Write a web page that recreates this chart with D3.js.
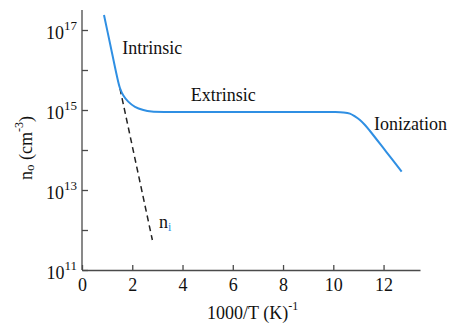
<!DOCTYPE html>
<html><head><meta charset="utf-8">
<script src="https://cdn.jsdelivr.net/npm/d3@7"></script>
<style>
html,body{margin:0;padding:0;background:#fff;}
svg{display:block;font-family:"Liberation Serif","Times New Roman",serif;}
</style></head>
<body><svg id="c" width="457" height="328"></svg>
<script>
// x ticks (1000/T)
const xTicks = [0, 2, 4, 6, 8, 10, 12];
// y ticks (exponents of 10)
const yTickExps = [11, 12, 13, 14, 15, 16, 17];
const yLabelExps = [11, 13, 15, 17];
// n0 curve: 1000/T and log10(n0)
const n0X   = [0.875, 1.13, 1.38, 1.51, 1.64, 1.84, 2.11, 2.44, 2.77, 3.5, 5, 7, 9, 10.0, 10.4, 10.66, 10.86, 11.06, 11.26, 11.46, 12.1, 12.72];
const n0Log = [17.375, 16.62, 15.875, 15.55, 15.37, 15.21, 15.08, 15.0, 14.96, 14.95, 14.95, 14.95, 14.95, 14.95, 14.94, 14.91, 14.84, 14.75, 14.625, 14.475, 13.96, 13.46];
// intrinsic ni line
const niX   = [1.51, 2.8];
const niLog = [15.54, 11.75];
// region labels
const labels = [
  {t: "Intrinsic", x: 1.6, e: 16.39},
  {t: "Extrinsic", x: 4.33, e: 15.23},
  {t: "Ionization", x: 11.62, e: 14.5}
];

const svg = d3.select("#c");
const x = d3.scaleLinear().domain([0, 13.45]).range([82, 420]);
const y = d3.scaleLog().domain([1e11, Math.pow(10, 17.5)]).range([270, 10]);

const axisColor = "#4a4a4a";

// x axis
const gx = svg.append("g").attr("transform", "translate(0,270)")
  .call(d3.axisBottom(x).tickValues(xTicks).tickSizeInner(-5).tickSizeOuter(0).tickPadding(6).tickFormat(d3.format("d")));
gx.select(".domain").attr("stroke", axisColor).attr("stroke-width", 1.3);
gx.selectAll(".tick line").attr("stroke", axisColor).attr("stroke-width", 1.3);
gx.selectAll(".tick text").attr("font-family", "Liberation Serif").attr("font-size", 18).attr("fill", "#111")
  .attr("y", 21).attr("dy", 0);

// y axis
const gy = svg.append("g").attr("transform", "translate(82,0)")
  .call(d3.axisLeft(y).tickValues(yTickExps.map(e => Math.pow(10, e))).tickSizeInner(-6).tickSizeOuter(0).tickFormat(""));
gy.select(".domain").attr("stroke", axisColor).attr("stroke-width", 1.3)
  .attr("d", "M0,270V10");
gy.selectAll(".tick line").attr("stroke", axisColor).attr("stroke-width", 1.3);

// y labels 10^n
yLabelExps.forEach(e => {
  const t = svg.append("text").attr("x", 77).attr("y", y(Math.pow(10, e)) + 9)
    .attr("text-anchor", "end").attr("font-size", 18).attr("fill", "#111");
  t.append("tspan").text("10");
  t.append("tspan").attr("font-size", 13).attr("dy", -9).text(String(e));
});

// axis titles
const xt = svg.append("text").attr("x", 207).attr("y", 319).attr("font-size", 18).attr("fill", "#111");
xt.append("tspan").text("1000/T (K)");
xt.append("tspan").attr("font-size", 12).attr("dy", -9).text("-1");

const yt = svg.append("text").attr("transform", "translate(32,180) rotate(-90)").attr("font-size", 18).attr("fill", "#111");
yt.append("tspan").text("n");
yt.append("tspan").attr("font-size", 13).attr("dy", 2).text("o");
yt.append("tspan").attr("dy", -2).text(" (cm");
yt.append("tspan").attr("font-size", 12).attr("dy", -9).text("-3");
yt.append("tspan").attr("dy", 9).text(")");

// ni dashed line
const niData = niX.map((v, i) => [v, Math.pow(10, niLog[i])]);
svg.append("path").datum(niData)
  .attr("d", d3.line().x(d => x(d[0])).y(d => y(d[1])))
  .attr("fill", "none").attr("stroke", "#222").attr("stroke-width", 1.5)
  .attr("stroke-dasharray", "6,4");

// n0 curve
const n0Data = n0X.map((v, i) => [v, Math.pow(10, n0Log[i])]);
svg.append("path").datum(n0Data)
  .attr("d", d3.line().curve(d3.curveCatmullRom.alpha(0.5)).x(d => x(d[0])).y(d => y(d[1])))
  .attr("fill", "none").attr("stroke", "#2f8fe3").attr("stroke-width", 2);

// region labels
labels.forEach(l => {
  svg.append("text").attr("x", x(l.x)).attr("y", y(Math.pow(10, l.e)))
    .attr("font-size", 18).attr("fill", "#111").text(l.t);
});

// ni label
const nl = svg.append("text").attr("x", x(3.06)).attr("y", 228).attr("font-size", 18).attr("fill", "#111");
nl.append("tspan").text("n");
nl.append("tspan").attr("font-size", 12).attr("dy", 3).attr("fill", "#2f8fe3").text("i");
</script></body></html>
